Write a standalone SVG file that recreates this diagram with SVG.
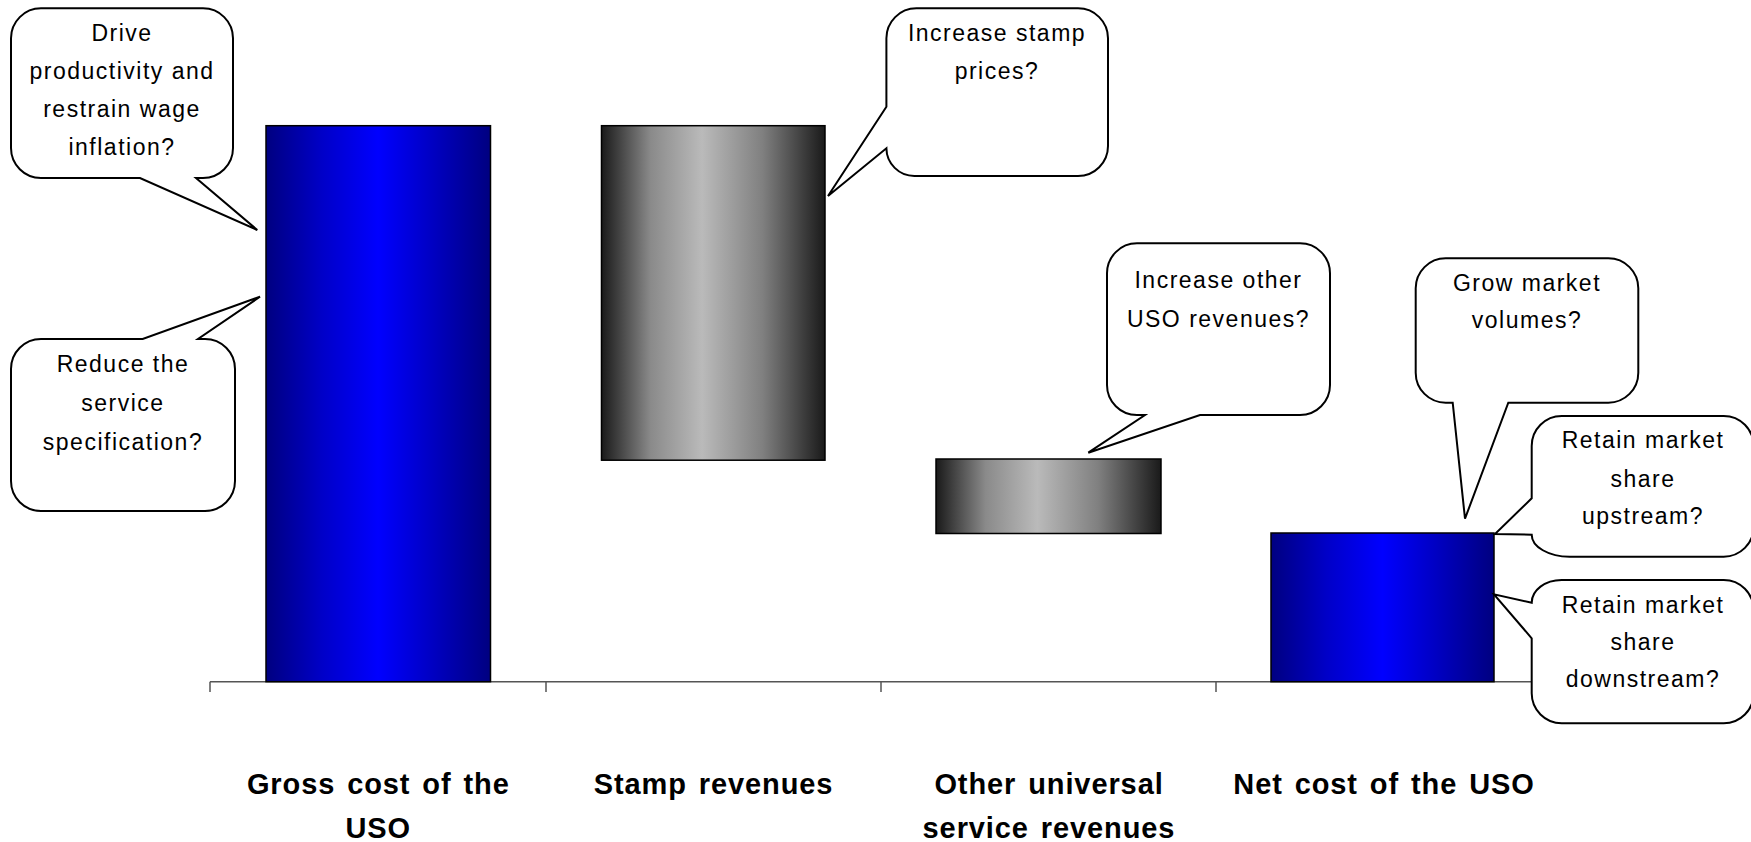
<svg xmlns="http://www.w3.org/2000/svg" width="1751" height="842" viewBox="0 0 1751 842">
<defs>
<linearGradient id="blue" x1="0" y1="0" x2="1" y2="0">
<stop offset="0" stop-color="#000080"/>
<stop offset="0.25" stop-color="#0000c8"/>
<stop offset="0.5" stop-color="#0000FF"/>
<stop offset="0.75" stop-color="#0000c0"/>
<stop offset="1" stop-color="#000080"/>
</linearGradient>
<linearGradient id="gray" x1="0" y1="0" x2="1" y2="0">
<stop offset="0" stop-color="#1a1a1a"/>
<stop offset="0.22" stop-color="#8a8a8a"/>
<stop offset="0.45" stop-color="#bababa"/>
<stop offset="0.72" stop-color="#808080"/>
<stop offset="1" stop-color="#1a1a1a"/>
</linearGradient>
</defs>
<style>
.bar{stroke:#000;stroke-width:1.5}
.bub{fill:#fff;stroke:#000;stroke-width:2;stroke-linejoin:miter}
.bt{font-family:"Liberation Sans",Arial,sans-serif;font-size:23px;letter-spacing:1.5px;text-anchor:middle;fill:#000}
.lab{font-family:"Liberation Sans",Arial,sans-serif;font-size:29px;font-weight:bold;letter-spacing:0.9px;word-spacing:3px;text-anchor:middle;fill:#000}
.ax{stroke:#555;stroke-width:1.5;fill:none}
</style>
<g id="axis">
<path class="ax" d="M210,681.7 H1552 M210,681.7 V692 M546,681.7 V692 M881,681.7 V692 M1216,681.7 V692"/>
</g>
<g id="bar-gross"><rect class="bar" x="266" y="125.7" width="224.5" height="556" fill="url(#blue)"/></g>
<g id="bar-stamp"><rect class="bar" x="601.5" y="125.7" width="223.5" height="334.5" fill="url(#gray)"/></g>
<g id="bar-other"><rect class="bar" x="936" y="459" width="225" height="74.5" fill="url(#gray)"/></g>
<g id="bar-net"><rect class="bar" x="1271" y="533" width="223" height="148.7" fill="url(#blue)"/></g>
<g id="labels">
<text class="lab" x="378.3" y="794.3">Gross cost of the</text>
<text class="lab" x="378.3" y="838.3">USO</text>
<text class="lab" x="713.5" y="794.3">Stamp revenues</text>
<text class="lab" x="1049" y="794.3">Other universal</text>
<text class="lab" x="1049" y="838.3">service revenues</text>
<text class="lab" x="1384" y="794.3">Net cost of the USO</text>
</g>
<g id="connectors"></g>
<g id="bubble-drive">
<path class="bub" d="M41,8.3 H203 A30 30 0 0 1 233,38.3 V148 A30 30 0 0 1 203,178 H196 L257.3,230 L140,178 H41 A30 30 0 0 1 11,148 V38.3 A30 30 0 0 1 41,8.3 Z"/>
<text class="bt" x="122" y="40.7">Drive</text>
<text class="bt" x="122" y="79">productivity and</text>
<text class="bt" x="122" y="117.3">restrain wage</text>
<text class="bt" x="122" y="155">inflation?</text>
</g>
<g id="bubble-reduce">
<path class="bub" d="M41,339 H142.7 L260,296.7 L198,339 H205 A30 30 0 0 1 235,369 V481 A30 30 0 0 1 205,511 H41 A30 30 0 0 1 11,481 V369 A30 30 0 0 1 41,339 Z"/>
<text class="bt" x="123" y="371.7">Reduce the</text>
<text class="bt" x="123" y="411">service</text>
<text class="bt" x="123" y="450">specification?</text>
</g>
<g id="bubble-stamp">
<path class="bub" d="M916.4,8.3 H1078 A30 30 0 0 1 1108,38.3 V146 A30 30 0 0 1 1078,176 H914.4 A28 28 0 0 1 886.4,148.3 L828,196 L886.4,106.7 V38.3 A30 30 0 0 1 916.4,8.3 Z"/>
<text class="bt" x="997" y="40.7">Increase stamp</text>
<text class="bt" x="997" y="79.3">prices?</text>
</g>
<g id="bubble-other">
<path class="bub" d="M1137,243.3 H1300 A30 30 0 0 1 1330,273.3 V385 A30 30 0 0 1 1300,415 H1200 L1088.3,452.7 L1145,415 H1137 A30 30 0 0 1 1107,385 V273.3 A30 30 0 0 1 1137,243.3 Z"/>
<text class="bt" x="1218.5" y="288.3">Increase other</text>
<text class="bt" x="1218.5" y="326.7">USO revenues?</text>
</g>
<g id="bubble-grow">
<path class="bub" d="M1445.7,258.3 H1608.3 A30 30 0 0 1 1638.3,288.3 V372.7 A30 30 0 0 1 1608.3,402.7 H1508.3 L1465,518.7 L1452.7,402.7 H1445.7 A30 30 0 0 1 1415.7,372.7 V288.3 A30 30 0 0 1 1445.7,258.3 Z"/>
<text class="bt" x="1527" y="290.7">Grow market</text>
<text class="bt" x="1527" y="328.3">volumes?</text>
</g>
<g id="bubble-upstream">
<path class="bub" d="M1561.7,416 H1723.7 A30 30 0 0 1 1753.7,446 V526.7 A30 30 0 0 1 1723.7,556.7 H1569.7 A38 22 0 0 1 1531.7,534.7 L1495,534 L1531.7,498.3 V446 A30 30 0 0 1 1561.7,416 Z"/>
<text class="bt" x="1643" y="448.3">Retain market</text>
<text class="bt" x="1643" y="486.7">share</text>
<text class="bt" x="1643" y="524">upstream?</text>
</g>
<g id="bubble-downstream">
<path class="bub" d="M1561.7,580 H1723.7 A30 30 0 0 1 1753.7,610 V693.3 A30 30 0 0 1 1723.7,723.3 H1561.7 A30 30 0 0 1 1531.7,693.3 V638.3 L1494,594.3 L1531.7,602.7 A30 22.7 0 0 1 1561.7,580 Z"/>
<text class="bt" x="1643" y="613.3">Retain market</text>
<text class="bt" x="1643" y="650">share</text>
<text class="bt" x="1643" y="687.3">downstream?</text>
</g>
</svg>
